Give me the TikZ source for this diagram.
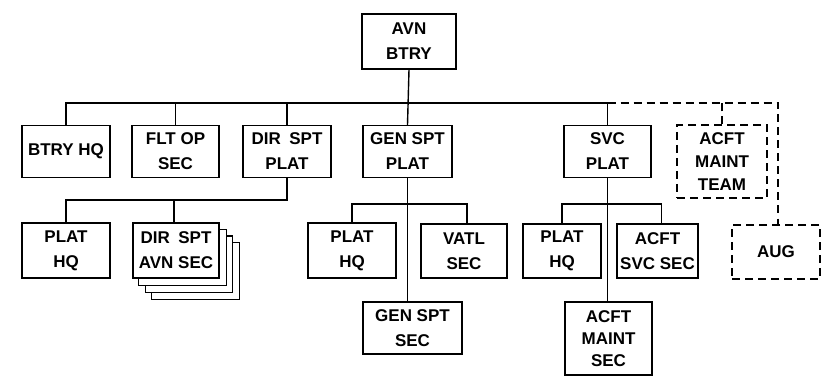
\documentclass[tikz,border=0pt]{standalone}
\usepackage{fontspec}
\setmainfont{Liberation Sans}
\usetikzlibrary{backgrounds,calc}

\begin{document}
\begin{tikzpicture}[x=1pt,y=-1pt,line width=1.4pt,
    unit/.style={draw,fill=white,align=center,inner sep=0pt,
      minimum width=88pt,minimum height=52pt,
      font=\fontsize{17}{25}\selectfont\bfseries},
    augunit/.style={unit,dash pattern=on 8pt off 5pt},
    auglink/.style={dash pattern=on 8pt off 5pt}]
  \useasboundingbox (0,0) rectangle (824,382);

  % battery and its first level
  \node[unit,minimum width=94pt,minimum height=55pt] (btry) at (409,41.5) {AVN\\BTRY};
  \node[unit] (bhq) at (66,151.5) {BTRY HQ};
  \node[unit,minimum width=87pt] (fltop) at (175.5,151.5) {FLT OP\\SEC};
  \node[unit] (dirplat) at (287,151.5) {DIR\enspace SPT\\PLAT};
  \node[unit,minimum width=89pt] (genplat) at (407.5,151.5) {GEN SPT\\PLAT};
  \node[unit,minimum width=87pt] (svcplat) at (607.5,151.5) {SVC\\PLAT};
  \node[augunit,minimum width=90pt,minimum height=73pt,
    font=\fontsize{17}{23}\selectfont\bfseries] (team) at (722,161.5)
    {ACFT\\MAINT\\TEAM};
  \node[augunit,minimum height=54pt] (aug) at (776,252) {AUG};

  % platoon elements
  \node[unit,minimum height=55pt] (dirhq) at (66,250.5) {PLAT\\HQ};
  \node[unit,minimum width=86pt,minimum height=55pt] (dirsec) at (176,250.5)
    {DIR\enspace SPT\\AVN SEC};
  \node[unit,minimum height=55pt] (genhq) at (352,250.5) {PLAT\\HQ};
  \node[unit,minimum width=86pt,minimum height=54pt] (vatl) at (464,251) {VATL\\SEC};
  \node[unit,minimum width=99pt] (gensec) at (412.5,328) {GEN SPT\\SEC};
  \node[unit,minimum width=78pt,minimum height=54pt] (svchq) at (562,251) {PLAT\\HQ};
  \node[unit,minimum width=81pt,minimum height=54pt] (svcsec) at (657.5,251)
    {ACFT\\SVC SEC};
  \node[unit,minimum width=87pt,minimum height=73pt,
    font=\fontsize{17}{22}\selectfont\bfseries] (maintsec) at (608.5,338.5)
    {ACFT\\MAINT\\SEC};

  % stacked sections behind DIR SPT AVN SEC
  \begin{scope}[on background layer]
    \foreach \d in {3,2,1}
      \draw[fill=white,line width=1.2pt] ($(dirsec.north west)+(6.5*\d,6.8*\d)$)
        rectangle ($(dirsec.south east)+(6.5*\d,6.8*\d)$);
  \end{scope}

  \coordinate (bus) at (409,103);
  \coordinate (dirbus) at (287,200);
  \coordinate (genbus) at (408,204);
  \coordinate (svcbus) at (609,204);
  \coordinate (augbus) at (778,103);

  % solid chain of command
  \draw (btry.south) -- (genplat.north);
  \draw (bhq.north) |- (bus) -| (svcplat.north);
  \draw (fltop.north) -- (fltop.north |- bus);
  \draw (dirplat.north) -- (dirplat.north |- bus);
  \draw (dirplat.south) -- (dirbus) -| (dirhq.north);
  \draw ([xshift=-2pt]dirsec.north) -- ([xshift=-2pt]dirsec.north |- dirbus);
  \draw (genplat.south) -- (genplat.south |- gensec.north);
  \draw (genhq.north) |- (genbus) -| ([xshift=3pt]vatl.north);
  \draw (svcplat.south) -- (svcplat.south |- maintsec.north);
  \draw (svchq.north) |- (svcbus) -| ([xshift=4pt]svcsec.north);

  % augmentation
  \draw[auglink] (svcplat.north |- bus) -- (augbus) -- (augbus |- aug.north);
  \draw[auglink] (team.north) -- (team.north |- bus);
\end{tikzpicture}
\end{document}
